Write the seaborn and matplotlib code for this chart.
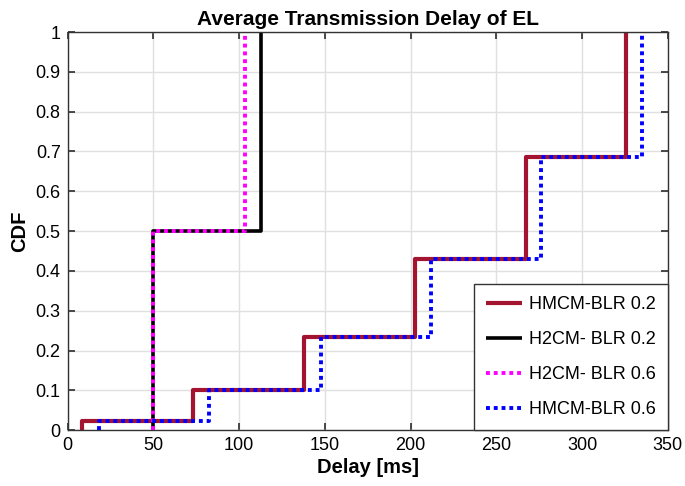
import numpy as np
import pandas as pd
import matplotlib
matplotlib.use("Agg")
import matplotlib.pyplot as plt
import seaborn as sns

sns.set_theme(style="whitegrid")
plt.rcParams['font.family'] = ['Liberation Sans', 'DejaVu Sans']
plt.rcParams['text.color'] = 'black'
plt.rcParams['axes.labelcolor'] = 'black'
plt.rcParams['xtick.color'] = 'black'
plt.rcParams['ytick.color'] = 'black'

# step positions (delay in ms) and CDF levels
hmcm02_x = [8.5, 73, 138, 202.5, 267, 325.5]
hmcm02_y = [0.023, 0.1, 0.235, 0.43, 0.685, 1.0]
h2cm02_x = [50, 112.5]
h2cm02_y = [0.5, 1.0]
h2cm06_x = [50, 103.5]
h2cm06_y = [0.5, 1.0]
hmcm06_x = [18, 82.5, 147.5, 212, 276, 335]
hmcm06_y = [0.023, 0.1, 0.235, 0.43, 0.685, 1.0]

x_ticks = [0, 50, 100, 150, 200, 250, 300, 350]
y_ticks = [0, 0.1, 0.2, 0.3, 0.4, 0.5, 0.6, 0.7, 0.8, 0.9, 1.0]
y_tick_labels = ['0', '0.1', '0.2', '0.3', '0.4', '0.5', '0.6', '0.7', '0.8', '0.9', '1']


def step_frame(xs, ys):
    # start each curve from CDF = 0 at its first step
    return pd.DataFrame({'delay': [xs[0]] + list(xs), 'cdf': [0.0] + list(ys)})


series = [
    ('HMCM-BLR 0.2', hmcm02_x, hmcm02_y, dict(color='#A2142F', linewidth=3.0, linestyle='-')),
    ('H2CM- BLR 0.2', h2cm02_x, h2cm02_y, dict(color='black', linewidth=2.6, linestyle='-')),
    ('H2CM- BLR 0.6', h2cm06_x, h2cm06_y, dict(color='#FF00FF', linewidth=2.8, linestyle=(0, (1, 1)))),
    ('HMCM-BLR 0.6', hmcm06_x, hmcm06_y, dict(color='#0000FF', linewidth=2.8, linestyle=(0, (1, 1)))),
]

fig = plt.figure(figsize=(6.85, 4.86), dpi=100)
ax = fig.add_axes([0.0988, 0.115, 0.8762, 0.819])

for name, xs, ys, style in series:
    df = step_frame(xs, ys)
    sns.lineplot(data=df, x='delay', y='cdf', ax=ax, estimator=None, sort=False,
                 drawstyle='steps-post', label=name, dash_capstyle='butt',
                 solid_capstyle='butt', **style)

ax.set_xlim(0, 350)
ax.set_ylim(0, 1)
ax.set_xticks(x_ticks)
ax.set_yticks(y_ticks)
ax.set_yticklabels(y_tick_labels)
ax.tick_params(axis='both', labelsize=13, direction='in', length=5, color='#333333',
               top=True, right=True, bottom=True, left=True, pad=5)
ax.grid(True, color='#e0e0e0', linewidth=1.0)
for sp in ax.spines.values():
    sp.set_color('#333333')
    sp.set_linewidth(1.0)

ax.set_title('Average Transmission Delay of EL', fontsize=15, fontweight='bold', pad=5)
ax.set_xlabel('Delay [ms]', fontsize=14.5, fontweight='bold', labelpad=3)
ax.set_ylabel('CDF', fontsize=14.5, fontweight='bold', labelpad=5)

leg = ax.legend(loc='lower right', fontsize=13, frameon=True, fancybox=False,
                borderaxespad=0, handlelength=2.0, labelspacing=1.0, borderpad=0.65,
                handletextpad=0.4)
leg.get_frame().set_edgecolor('#333333')
leg.get_frame().set_linewidth(1.0)
leg.get_frame().set_alpha(1.0)

fig.savefig('out.png', dpi=100)
